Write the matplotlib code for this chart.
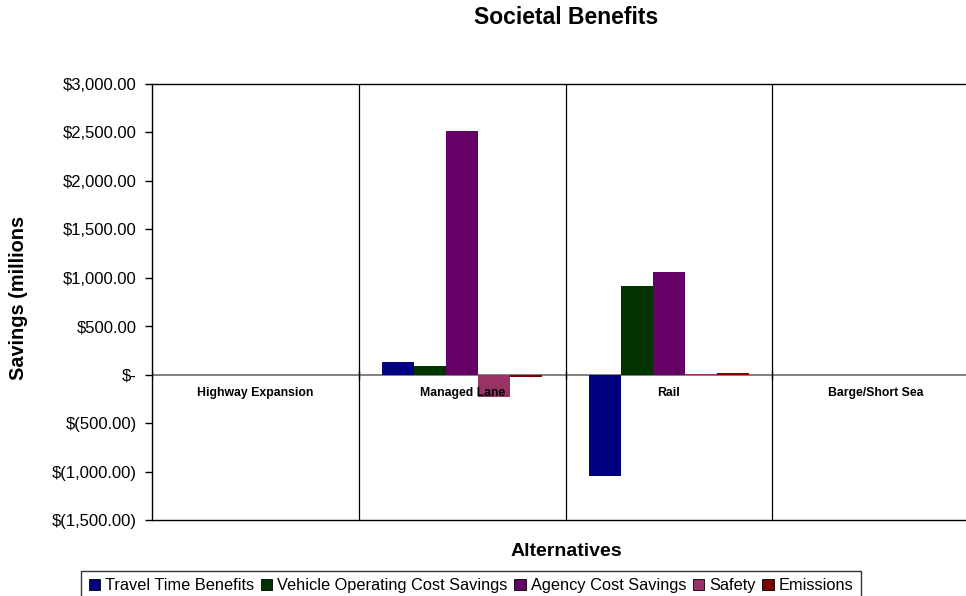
import matplotlib
matplotlib.use("Agg")
import matplotlib.pyplot as plt
from matplotlib.ticker import FuncFormatter
import numpy as np

plt.rcParams['font.family'] = ['Liberation Sans', 'DejaVu Sans']

categories = ["Highway Expansion", "Managed Lane", "Rail", "Barge/Short Sea"]
series_names = ["Travel Time Benefits", "Vehicle Operating Cost Savings",
                "Agency Cost Savings", "Safety", "Emissions"]
travel_time = [0, 134, -1045, 0]
vehicle_op = [0, 90, 920, 0]
agency = [0, 2520, 1055, 0]
safety = [0, -230, 5, 0]
emissions = [0, -22, 22, 0]
series_values = [travel_time, vehicle_op, agency, safety, emissions]
colors = ["#000080", "#003300", "#660066", "#993366", "#800000"]
yticks = [-1500, -1000, -500, 0, 500, 1000, 1500, 2000, 2500, 3000]

fig = plt.figure(figsize=(9.66, 5.96), dpi=100)
ax = fig.add_axes([152/966, 1-520/596, 827/966, 436/596])

x = np.arange(len(categories))
w = 0.155
handles = []
for k, (vals, c, name) in enumerate(zip(series_values, colors, series_names)):
    b = ax.bar(x + (k - 2) * w, vals, width=w, color=c, label=name, zorder=3,
               linewidth=0)
    handles.append(b)

ax.set_xlim(-0.5, len(categories) - 0.5)
ax.set_ylim(-1500, 3000)
ax.set_yticks(yticks)

def fmt(v, pos):
    if v == 0:
        return "$-"
    if v < 0:
        return "$({:,.2f})".format(-v)
    return "${:,.2f}".format(v)

ax.yaxis.set_major_formatter(FuncFormatter(fmt))
ax.tick_params(axis='y', labelsize=12, length=5, direction='out', width=1, pad=6)

# category boundaries
bounds = np.arange(len(categories) + 1) - 0.5
ax.set_xticks([])
for bnd in bounds[1:-1]:
    ax.axvline(bnd, color='black', lw=0.9, zorder=1)
ax.axhline(0, color='#808080', lw=1.4, zorder=2)
ax.plot(bounds, np.zeros_like(bounds), linestyle='none', marker='|', color='black',
        markersize=6, zorder=5)

for i, cat in enumerate(categories):
    ax.annotate(cat, xy=(i, 0), xytext=(0, -9), textcoords='offset points',
                ha='center', va='top', fontsize=8.8, fontweight='bold', zorder=6)

for s in ax.spines.values():
    s.set_color('black')
    s.set_linewidth(1)

fig.text(566/966, 1-18/596, "Societal Benefits", ha='center', va='center',
         fontsize=16.5, fontweight='bold')
fig.text(566/966, 1-551/596, "Alternatives", ha='center', va='center',
         fontsize=14, fontweight='bold')
fig.text(19/966, 1-298/596, "Savings (millions", ha='center', va='center',
         rotation=90, fontsize=14.3, fontweight='bold')

leg = fig.legend(handles=handles, labels=series_names, loc='upper center',
                 bbox_to_anchor=(471/966, 1-571/596), ncol=5, fontsize=11.8,
                 frameon=True, fancybox=False, edgecolor='black',
                 handlelength=0.7, handleheight=0.7, handletextpad=0.3,
                 columnspacing=0.4, borderpad=0.45, borderaxespad=0)
leg.get_frame().set_linewidth(1)
for p in leg.get_patches():
    p.set_edgecolor('black')
    p.set_linewidth(0.6)

fig.savefig("out.png", dpi=100)
